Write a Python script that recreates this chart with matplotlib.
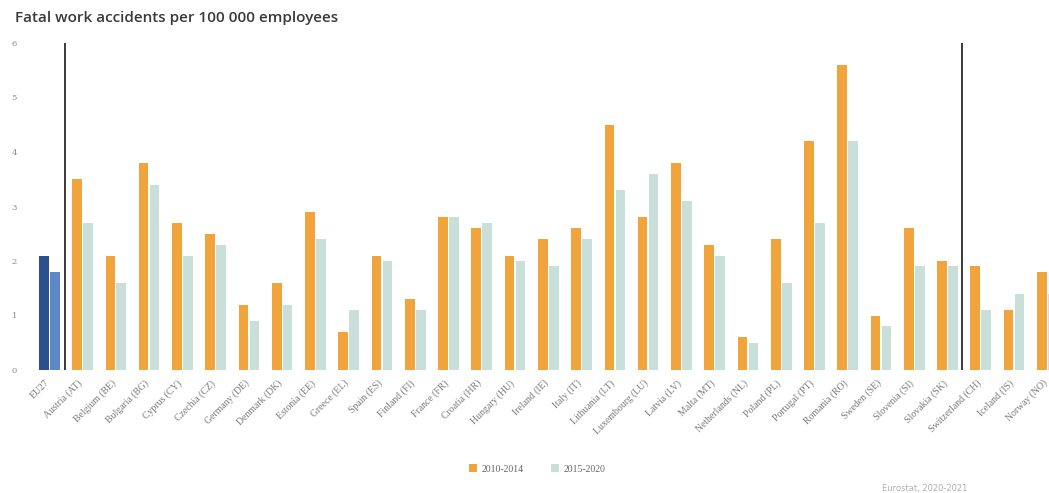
import matplotlib
matplotlib.use("Agg")
import matplotlib.pyplot as plt
import matplotlib.transforms as mtrans
from matplotlib.patches import Patch
import numpy as np

categories = ["EU27", "Austria (AT)", "Belgium (BE)", "Bulgaria (BG)", "Cyprus (CY)",
              "Czechia (CZ)", "Germany (DE)", "Denmark (DK)", "Estonia (EE)", "Greece (EL)",
              "Spain (ES)", "Finland (FI)", "France (FR)", "Croatia (HR)", "Hungary (HU)",
              "Ireland (IE)", "Italy (IT)", "Lithuania (LT)", "Luxembourg (LU)", "Latvia (LV)",
              "Malta (MT)", "Netherlands (NL)", "Poland (PL)", "Portugal (PT)", "Romania (RO)",
              "Sweden (SE)", "Slovenia (SI)", "Slovakia (SK)", "Switzerland (CH)",
              "Iceland (IS)", "Norway (NO)"]
v2010_2014 = [2.1, 3.5, 2.1, 3.8, 2.7, 2.5, 1.2, 1.6, 2.9, 0.7, 2.1, 1.3, 2.8, 2.6, 2.1,
              2.4, 2.6, 4.5, 2.8, 3.8, 2.3, 0.6, 2.4, 4.2, 5.6, 1.0, 2.6, 2.0, 1.9, 1.1, 1.8]
v2015_2020 = [1.8, 2.7, 1.6, 3.4, 2.1, 2.3, 0.9, 1.2, 2.4, 1.1, 2.0, 1.1, 2.8, 2.7, 2.0,
              1.9, 2.4, 3.3, 3.6, 3.1, 2.1, 0.5, 1.6, 2.7, 4.2, 0.8, 1.9, 1.9, 1.1, 1.4, 1.4]
legend_labels = ["2010-2014", "2015-2020"]
yticks = [0, 1, 2, 3, 4, 5, 6]

c_orange = "#F2A43C"
c_teal = "#C9DFDA"
c_eu_dark = "#2E4F8E"
c_eu_light = "#5C88C6"

fig = plt.figure(figsize=(10.49, 4.93), dpi=100)
fig.patch.set_facecolor("white")
ax = fig.add_axes([28 / 1049, 1 - 370 / 493, 1 - 28 / 1049, (370 - 43) / 493])

x = np.arange(len(categories))
w = 0.29
off = 0.165
cols1 = [c_eu_dark] + [c_orange] * (len(categories) - 1)
cols2 = [c_eu_light] + [c_teal] * (len(categories) - 1)
ax.bar(x - off, v2010_2014, width=w, color=cols1, linewidth=0)
ax.bar(x + off, v2015_2020, width=w, color=cols2, linewidth=0)

for xv in (0.47, 27.44):
    ax.plot([xv, xv], [0, 6], color="#3a3a3a", lw=1.4, solid_capstyle="butt", zorder=3)

ax.set_xlim(-0.64, 30.05)
ax.set_ylim(0, 6)
for s in ax.spines.values():
    s.set_visible(False)
ax.set_yticks(yticks)
ax.set_yticklabels([str(t) for t in yticks], fontsize=6, color="#888888", family="DejaVu Serif")
ax.tick_params(axis="y", length=0, pad=8)
ax.set_xticks(x)
ax.set_xticklabels(categories, rotation=45, ha="right", va="top", rotation_mode="anchor",
                   fontsize=7, color="#7a7a7a", family="Liberation Serif")
ax.tick_params(axis="x", length=0, pad=6)
shift = mtrans.ScaledTranslation(-5 / 100, 0, fig.dpi_scale_trans)
for lab in ax.get_xticklabels():
    lab.set_transform(lab.get_transform() + shift)

fig.text(15 / 1049, 1 - 18 / 493, "Fatal work accidents per 100 000 employees",
         fontsize=11, color="#3a3a3a", family="Open Sans", weight="semibold",
         ha="left", va="center")

handles = [Patch(facecolor=c_orange), Patch(facecolor=c_teal)]
leg = fig.legend(handles, legend_labels, loc="center", bbox_to_anchor=(537 / 1049, 1 - 469 / 493),
                 ncol=2, frameon=False, prop={"family": "Liberation Serif", "size": 7},
                 handlelength=0.8, handleheight=0.8, columnspacing=2.8, handletextpad=0.5)
for t in leg.get_texts():
    t.set_color("#666666")

fig.text(925 / 1049, 1 - 489 / 493, "Eurostat, 2020-2021", fontsize=6, color="#b0b0b0",
         ha="center", va="center")

fig.savefig("out.png", dpi=100, facecolor="white")
